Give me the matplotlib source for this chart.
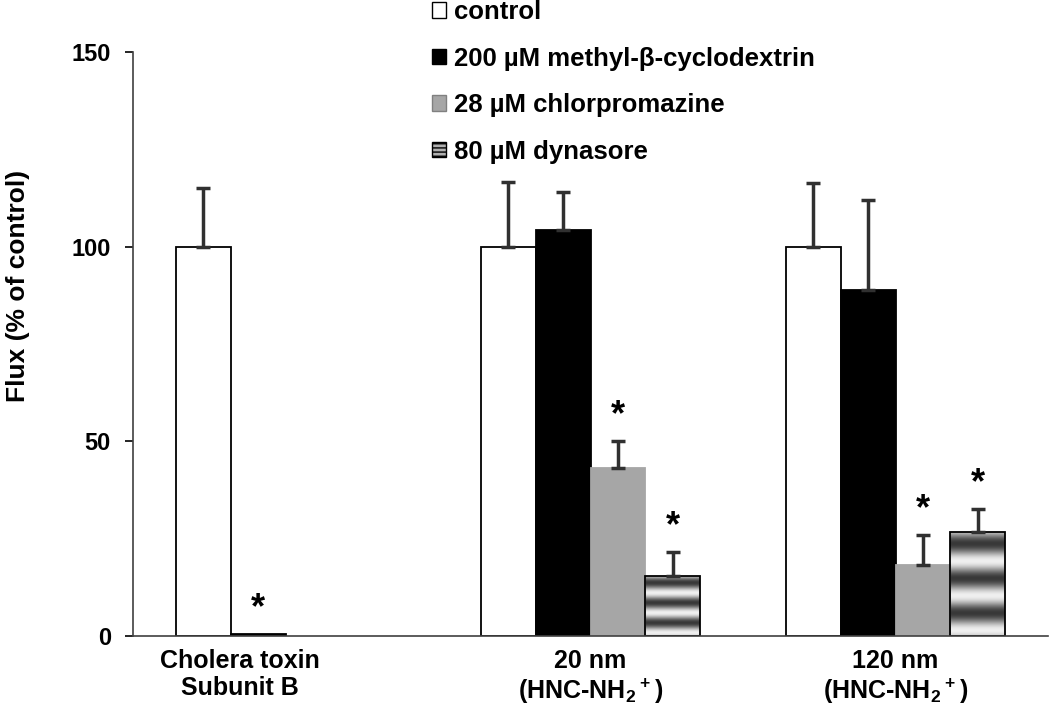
import numpy as np
import matplotlib
matplotlib.use('Agg')
import matplotlib.pyplot as plt
from matplotlib.patches import Patch

plt.rcParams['font.family'] = ['Liberation Sans', 'DejaVu Sans']
plt.rcParams['font.weight'] = 'bold'
plt.rcParams['mathtext.fontset'] = 'custom'
plt.rcParams['mathtext.rm'] = 'Liberation Sans:bold'
plt.rcParams['mathtext.bf'] = 'Liberation Sans:bold'
plt.rcParams['mathtext.default'] = 'bf'

groups = ['Cholera toxin\nSubunit B', '20 nm\n(HNC-NH$_2{}^+$)', '120 nm\n(HNC-NH$_2{}^+$)']
treatments = ['control', '200 \u00b5M methyl-\u03b2-cyclodextrin', '28 \u00b5M chlorpromazine', '80 \u00b5M dynasore']

# mean, error (upper only); nan = not measured
means = np.array([[100, 0.4, np.nan, np.nan],
                  [100, 104.3, 43.2, 15.4],
                  [100, 88.8, 18.2, 26.7]])
errs = np.array([[15.1, 0, np.nan, np.nan],
                 [16.6, 9.8, 6.9, 6.2],
                 [16.3, 23.2, 7.7, 5.9]])
signif = np.array([[False, True, False, False],
                   [False, False, True, True],
                   [False, False, True, True]])

face = ['white', 'black', '#a6a6a6', 'none']
edge = ['black', 'black', '#a6a6a6', 'black']

fig = plt.figure(figsize=(10.5, 7.18), dpi=100)
ax = fig.add_axes([133 / 1050, 1 - 636 / 718, 915 / 1050, 584 / 718])

w = 0.1803
x = np.arange(len(groups)) + 0.5


def stripes(n=200):
    t = np.linspace(0, 1, n)
    g = 0.58 - 0.36 * np.cos(2 * np.pi * (t - 0.11) / 0.335)
    return np.clip(g, 0, 1)[:, None]


for j in range(4):
    pos = x + (j - 1.5) * w
    for i in range(len(groups)):
        m = means[i, j]
        if np.isnan(m):
            continue
        b = ax.bar(pos[i], m, w, color=face[j], edgecolor=edge[j], linewidth=1.3, zorder=2)[0]
        if j == 3:
            im = ax.imshow(stripes(), cmap='gray', vmin=0, vmax=1, aspect='auto',
                           extent=[pos[i] - w / 2, pos[i] + w / 2, 0, m], zorder=1.5)
            im.set_clip_path(b)
        if errs[i, j] > 0:
            ax.errorbar(pos[i], m, yerr=[[0], [errs[i, j]]], fmt='none', ecolor='#303030',
                        elinewidth=2.5, capsize=5, capthick=2.5, zorder=3)
        if signif[i, j]:
            ax.text(pos[i], m + errs[i, j] + 6.5, '*', ha='center', va='center', fontsize=26)

ax.set_xlim(0, 3)
ax.set_ylim(0, 150)
ax.set_yticks([0, 50, 100, 150])
ax.set_xticks([0.35, 1.5, 2.5])
ax.set_xticklabels(groups, fontsize=18, linespacing=1.2)
ax.tick_params(axis='x', length=0, pad=9)
ax.tick_params(axis='y', direction='out', length=6, width=1.2, labelsize=17, pad=10)
for s in ['top', 'right']:
    ax.spines[s].set_visible(False)
for s in ['left', 'bottom']:
    ax.spines[s].set_linewidth(1.2)
    ax.spines[s].set_color('#404040')

ax.set_ylabel('Flux (% of control)', fontsize=19, fontweight='bold')
ax.yaxis.set_label_coords(-0.113, 0.60)

handles = [Patch(facecolor='white', edgecolor='black'),
           Patch(facecolor='black', edgecolor='black'),
           Patch(facecolor='#a6a6a6', edgecolor='#808080'),
           Patch(facecolor='#b0b0b0', edgecolor='black', hatch='----')]
fig.legend(handles, treatments, loc='upper left', bbox_to_anchor=(432 / 1050, 1.0), frameon=False,
           fontsize=18.5, handlelength=0.55, handleheight=0.55, handletextpad=0.3,
           labelspacing=0.88, borderpad=0, borderaxespad=0)

fig.savefig('out.png', dpi=100)
